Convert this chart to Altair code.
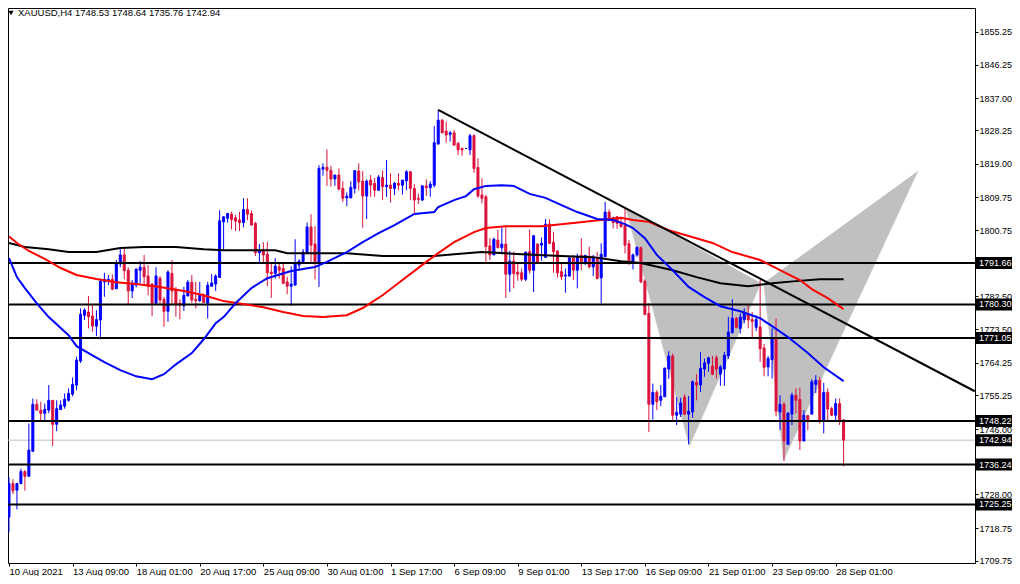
import altair as alt
import pandas as pd

opens = [1721.8,1731.0,1729.2,1731.0,1734.3,1733.0,1739.9,1752.8,1751.2,1750.3,1751.2,1753.9,1747.3,1751.4,1752.3,1753.9,1755.6,1758.1,1764.7,1777.3,
1778.2,1777.1,1774.3,1776.0,1786.5,1787.0,1787.2,1784.6,1791.4,1793.9,1789.7,1784.0,1785.6,1789.7,1790.5,1788.1,1785.9,1780.6,1787.5,1781.7,
1778.4,1788.8,1784.4,1780.6,1779.9,1782.6,1786.4,1781.7,1781.3,1782.8,1780.6,1785.3,1785.9,1787.7,1803.0,1804.0,1805.1,1804.1,1803.5,1802.8,
1806.4,1805.3,1802.6,1794.5,1795.0,1794.1,1789.2,1788.8,1790.6,1790.2,1786.5,1785.3,1785.6,1791.1,1792.1,1794.3,1801.6,1796.9,1791.6,1817.5,
1818.0,1817.2,1814.8,1815.9,1812.2,1809.6,1809.6,1812.2,1817.0,1814.2,1810.1,1814.5,1813.6,1811.7,1815.2,1812.7,1813.1,1812.2,1813.6,1813.1,
1814.3,1816.8,1812.2,1809.5,1809.0,1812.9,1812.4,1813.1,1824.4,1831.0,1828.0,1827.1,1827.5,1824.6,1823.2,1823.2,1822.8,1826.7,1818.0,1810.4,
1809.9,1796.4,1793.9,1798.0,1795.9,1796.9,1788.6,1792.2,1789.2,1789.0,1787.2,1794.8,1789.7,1796.9,1796.6,1793.2,1802.4,1797.4,1795.0,1789.3,
1788.1,1788.1,1793.0,1789.7,1793.8,1791.6,1793.6,1790.6,1793.2,1787.6,1793.4,1805.7,1804.2,1804.4,1802.8,1802.0,1797.0,1791.7,1793.9,1795.9,
1786.7,1777.8,1752.8,1756.1,1753.9,1754.9,1762.5,1766.1,1749.8,1750.1,1754.8,1750.1,1750.7,1758.8,1758.1,1762.5,1764.1,1763.3,1765.6,1761.1,
1762.5,1766.1,1772.5,1776.5,1773.7,1776.1,1777.6,1776.1,1774.0,1774.1,1768.3,1763.1,1765.1,1770.8,1750.7,1752.8,1741.8,1750.1,1755.3,1754.1,
1742.7,1749.7,1750.1,1758.3,1759.4,1748.4,1756.1,1751.6,1749.8,1753.0,1748.53]
highs = [1732.7,1732.2,1731.0,1735.1,1734.7,1747.5,1754.4,1754.2,1753.5,1753.0,1758.1,1753.9,1753.9,1753.9,1755.8,1757.2,1760.2,1765.9,1779.2,1779.2,
1782.6,1780.4,1778.7,1787.4,1789.0,1788.4,1788.6,1792.5,1795.7,1795.7,1790.5,1787.0,1790.2,1792.2,1793.9,1791.1,1786.1,1790.5,1788.1,1782.4,
1789.7,1792.5,1785.1,1781.7,1785.1,1787.0,1788.4,1786.5,1786.5,1783.3,1786.5,1788.6,1788.6,1806.2,1804.6,1805.5,1805.8,1804.9,1805.8,1809.5,
1809.5,1806.2,1803.0,1796.9,1797.4,1797.5,1791.7,1793.0,1791.8,1791.7,1787.9,1790.8,1798.2,1792.7,1795.5,1802.8,1805.1,1801.8,1818.6,1819.1,
1823.0,1818.4,1815.9,1817.7,1814.2,1811.1,1814.2,1817.2,1819.1,1817.0,1814.7,1815.9,1815.1,1815.9,1817.1,1820.0,1816.4,1814.0,1816.4,1814.5,
1817.2,1817.0,1813.4,1810.8,1813.1,1814.7,1814.2,1829.4,1833.8,1831.3,1830.6,1828.0,1828.3,1825.0,1823.5,1823.2,1827.2,1827.1,1820.5,1815.0,
1810.4,1798.5,1798.7,1800.9,1801.5,1801.8,1795.0,1794.8,1791.6,1790.2,1794.7,1800.9,1799.2,1797.1,1798.7,1803.8,1803.7,1800.3,1795.2,1791.6,
1790.2,1793.4,1793.9,1794.3,1798.5,1793.9,1796.2,1793.9,1794.7,1797.1,1808.5,1806.4,1804.4,1804.6,1804.4,1806.7,1798.0,1794.3,1796.2,1796.2,
1787.2,1780.6,1758.5,1756.7,1758.1,1762.8,1767.4,1766.8,1754.8,1754.6,1755.6,1755.1,1759.4,1761.1,1767.2,1765.4,1765.9,1766.1,1766.3,1763.6,
1767.2,1776.9,1781.7,1776.9,1777.8,1779.2,1780.4,1778.2,1777.3,1787.0,1769.4,1766.1,1773.7,1776.4,1755.3,1753.5,1750.6,1756.0,1757.2,1757.4,
1751.2,1749.8,1759.7,1760.8,1760.4,1758.7,1757.2,1752.1,1754.4,1754.4,1748.64]
lows = [1717.7,1728.1,1723.9,1730.8,1729.0,1733.0,1739.7,1751.0,1748.4,1748.4,1750.4,1741.3,1745.4,1751.2,1751.6,1753.5,1755.0,1756.7,1764.2,1776.0,
1773.7,1772.8,1771.6,1770.7,1782.4,1785.6,1784.2,1784.6,1790.5,1787.2,1780.1,1782.0,1785.0,1786.1,1785.6,1782.8,1777.1,1780.6,1780.4,1774.1,
1775.5,1780.4,1776.9,1776.2,1778.5,1782.6,1780.7,1779.2,1781.0,1780.7,1776.4,1785.1,1784.0,1787.7,1795.4,1802.8,1800.9,1800.5,1800.5,1801.5,
1803.5,1802.1,1793.6,1791.6,1791.7,1785.3,1782.1,1787.4,1787.4,1785.9,1783.1,1779.9,1785.6,1789.7,1791.8,1794.3,1791.7,1787.2,1785.1,1815.7,
1812.9,1812.7,1812.9,1811.7,1808.5,1807.3,1809.5,1810.8,1811.7,1801.4,1803.8,1809.9,1809.9,1811.6,1809.0,1809.9,1808.3,1810.4,1811.7,1810.5,
1811.7,1809.0,1804.9,1807.9,1808.8,1810.1,1809.9,1812.5,1824.4,1827.4,1824.8,1825.1,1824.1,1821.4,1821.2,1823.1,1821.4,1816.5,1809.6,1808.1,
1792.0,1792.5,1793.9,1795.7,1794.1,1782.1,1783.7,1784.7,1786.8,1786.7,1786.7,1788.8,1783.7,1791.4,1792.3,1793.2,1796.9,1789.0,1787.7,1787.0,
1783.5,1787.9,1787.0,1784.7,1789.7,1791.1,1790.2,1788.1,1787.2,1780.6,1793.4,1803.3,1801.2,1801.1,1801.4,1794.3,1791.1,1789.9,1793.4,1786.1,
1777.3,1745.2,1748.6,1751.2,1752.3,1754.9,1759.8,1748.2,1747.1,1749.3,1749.8,1741.8,1749.1,1753.9,1756.2,1760.4,1761.7,1760.8,1759.9,1757.9,
1757.9,1765.3,1772.3,1773.7,1772.3,1775.1,1773.7,1771.2,1773.0,1764.5,1760.5,1760.5,1759.9,1749.5,1745.7,1737.2,1741.8,1747.1,1750.3,1740.2,
1742.7,1745.7,1750.1,1755.9,1747.5,1744.8,1748.4,1749.6,1748.4,1747.1,1735.76]
closes = [1731.0,1729.0,1731.0,1734.3,1733.0,1740.2,1752.8,1751.2,1750.3,1751.4,1753.9,1747.3,1751.6,1752.6,1754.2,1755.8,1758.3,1765.0,1777.6,1778.7,
1776.9,1774.3,1776.1,1786.7,1787.2,1787.2,1784.5,1791.6,1793.9,1789.6,1784.0,1786.1,1790.0,1790.5,1787.9,1785.3,1780.6,1788.1,1781.5,1778.4,
1789.2,1784.0,1780.4,1780.1,1782.8,1786.4,1781.5,1781.3,1782.8,1780.8,1785.6,1786.2,1788.1,1803.3,1804.4,1805.3,1803.7,1803.2,1802.8,1806.4,
1805.1,1802.1,1794.5,1795.0,1793.9,1789.0,1788.8,1790.8,1789.7,1786.1,1785.3,1785.9,1791.6,1792.2,1794.7,1801.6,1796.6,1791.6,1817.7,1818.0,
1817.2,1814.8,1815.9,1812.0,1809.5,1810.1,1812.5,1817.1,1814.0,1810.1,1814.2,1813.1,1811.7,1815.3,1812.7,1813.1,1812.2,1813.6,1813.1,1814.5,
1816.8,1812.2,1809.0,1809.2,1812.9,1812.4,1813.4,1824.8,1831.0,1827.5,1826.9,1827.5,1824.1,1822.8,1822.8,1823.2,1826.7,1817.7,1810.1,1809.5,
1796.2,1793.9,1798.2,1795.9,1796.9,1788.6,1792.2,1788.8,1788.6,1787.2,1794.7,1789.7,1799.2,1791.6,1797.1,1802.4,1797.1,1794.8,1789.0,1787.9,
1788.4,1793.1,1789.7,1793.4,1791.6,1793.8,1790.6,1793.1,1787.4,1794.1,1805.7,1803.5,1802.8,1802.6,1801.7,1796.6,1791.7,1793.9,1796.0,1786.5,
1777.5,1752.8,1756.1,1753.5,1755.0,1762.8,1766.1,1749.8,1750.6,1753.2,1750.1,1750.9,1759.0,1758.1,1762.7,1764.2,1765.6,1761.1,1762.5,1763.1,
1766.3,1772.7,1776.5,1774.0,1776.8,1778.0,1776.0,1775.6,1776.1,1768.1,1763.0,1765.4,1770.8,1750.9,1752.8,1742.7,1750.4,1755.3,1753.9,1742.7,
1749.8,1748.4,1759.0,1759.4,1748.1,1756.1,1751.5,1749.8,1753.0,1748.4,1742.94]

ma_blue_i = [0,2,4,7,10,15,17,21,24,28,32,36,39,42,46,49,52,54,57,61,65,71,77,80,85,89,93,97,102,107,108,112,115,117,120,124,127,131,135,139,143,148,152,155,157,160,163,167,171,175,179,184,189,192,196,201,205,210]
ma_blue_p = [1793.0,1787.8,1784.8,1780.6,1776.8,1771.8,1768.8,1766.3,1764.4,1762.2,1760.5,1759.7,1761.1,1763.8,1766.9,1770.7,1775.1,1776.8,1780.6,1784.8,1787.5,1789.5,1790.6,1792.0,1794.7,1797.4,1799.9,1802.1,1805.2,1805.7,1807.1,1809.0,1810.1,1812.0,1812.9,1813.1,1812.9,1810.7,1809.6,1807.6,1805.7,1803.8,1803.5,1802.4,1801.3,1798.5,1793.9,1789.7,1785.1,1782.3,1779.8,1778.4,1776.5,1774.3,1771.3,1766.9,1763.0,1759.2]
ma_red_i = [0,2,5,9,13,17,22,27,32,38,44,49,54,56,64,69,74,79,85,89,94,99,105,108,112,117,120,125,134,142,149,154,157,161,166,171,177,182,189,194,199,202,206,210]
ma_red_p = [1799.0,1797.2,1795.0,1792.8,1790.3,1788.4,1787.3,1786.4,1785.9,1785.1,1784.0,1782.8,1781.2,1780.9,1779.5,1778.2,1777.1,1776.8,1777.3,1779.3,1782.8,1787.0,1792.0,1794.4,1797.4,1800.2,1801.3,1801.8,1801.8,1802.7,1803.5,1804.1,1803.5,1803.0,1800.7,1799.1,1797.2,1794.7,1792.5,1789.7,1787.0,1784.5,1782.0,1779.0]
ma_black_i = [0,4,10,15,22,28,34,42,49,54,67,70,85,94,107,112,119,129,139,147,154,159,167,173,179,186,192,198,204,210]
ma_black_p = [1797.2,1796.1,1795.5,1794.7,1794.7,1795.8,1796.1,1796.1,1795.5,1795.2,1795.2,1794.4,1794.4,1793.6,1793.6,1794.1,1794.7,1794.1,1793.6,1793.3,1792.2,1791.7,1789.7,1787.8,1786.1,1785.3,1786.1,1786.7,1787.2,1787.2]

trend_i = [108, 243]
trend_p = [1833.8, 1756.4]
pattern_left_i = [155.2, 171.2, 189.2]
pattern_left_p = [1806.8, 1741.3, 1786.2]
pattern_right_i = [189.9, 194.9, 228.7]
pattern_right_p = [1786.2, 1737.4, 1817.0]

level_prices = [1791.66, 1780.30, 1771.05, 1748.22, 1736.24, 1725.25]
last_price = 1742.94
y_ticks = [1855.25,1846.25,1837.00,1828.25,1819.00,1809.75,1800.75,1782.50,1773.50,1764.25,1755.25,1746.00,1728.00,1718.75,1709.75]
x_tick_labels = ["10 Aug 2021","13 Aug 09:00","18 Aug 01:00","20 Aug 17:00","25 Aug 09:00","30 Aug 01:00","1 Sep 17:00","6 Sep 09:00","9 Sep 01:00","13 Sep 17:00","16 Sep 09:00","21 Sep 01:00","23 Sep 09:00","28 Sep 01:00"]
header = "XAUUSD,H4  1748.53 1748.64 1735.76 1742.94"

FONT = "Liberation Sans"
FS = 9.5
FS_PRICE = 9
x_scale = alt.Scale(domain=[-0.25, 243.06], nice=False, zero=False, padding=0)
y_scale = alt.Scale(domain=[1709.14, 1861.85], nice=False, zero=False, padding=0)

x_axis = alt.Axis(
    title=None, values=[16 * k for k in range(len(x_tick_labels))],
    labelExpr="%s[datum.value / 16]" % str(x_tick_labels),
    labelAlign="left", labelFlush=False, labelOverlap=False, labelPadding=0,
    tickSize=3, tickColor="black", domain=False, grid=False,
    labelFont=FONT, labelFontSize=FS, labelColor="black")
y_axis = alt.Axis(
    title=None, orient="right", values=y_ticks, format=".2f",
    labelFlush=False, labelOverlap=False, labelPadding=1,
    tickSize=3, tickColor="black", domain=False, grid=False,
    labelFont=FONT, labelFontSize=FS_PRICE, labelColor="black")

def X(field="i"):
    return alt.X(field + ":Q", scale=x_scale, axis=x_axis)

def Y(field="p"):
    return alt.Y(field + ":Q", scale=y_scale, axis=y_axis)

candles = pd.DataFrame({"i": range(len(opens)), "o": opens, "h": highs, "l": lows, "c": closes})
candles["dir"] = ["up" if c >= o else "down" for o, c in zip(opens, closes)]
colour = alt.Scale(domain=["up", "down"], range=["#0000ff", "#dc143c"])

def poly(xs, ps):
    d = pd.DataFrame({"i": xs, "p": ps, "k": range(len(xs))})
    return alt.Chart(d).mark_line(fill="#c0c0c0", stroke="#c0c0c0", strokeWidth=0.5).encode(
        x=X(), y=Y(), order="k:Q")

def line(xs, ps, col):
    d = pd.DataFrame({"i": xs, "p": ps})
    return alt.Chart(d).mark_line(color=col, strokeWidth=2).encode(x=X(), y=Y())

wicks = alt.Chart(candles).mark_rule(strokeWidth=1).encode(
    x=X(), y=Y("l"), y2="h:Q",
    color=alt.Color("dir:N", scale=colour, legend=None))
bodies = alt.Chart(candles).mark_bar(size=2, strokeWidth=1, orient="vertical").encode(
    x=X(), y=Y("o"), y2="c:Q",
    color=alt.Color("dir:N", scale=colour, legend=None),
    stroke=alt.Stroke("dir:N", scale=colour, legend=None))

levels = alt.Chart(pd.DataFrame({"p": level_prices})).mark_rule(color="black", strokeWidth=2).encode(y=Y())
last_line = alt.Chart(pd.DataFrame({"p": [last_price]})).mark_rule(color="#c0c0c0", strokeWidth=1).encode(y=Y())

box_df = pd.DataFrame({"p": level_prices + [last_price]})
box_df["t"] = ["%.2f" % v for v in box_df["p"]]
boxes = alt.Chart(box_df).mark_rect(color="black", height=12).encode(
    x=alt.value(968), x2=alt.value(1004), y=Y())
box_text = alt.Chart(box_df).mark_text(color="white", font=FONT, fontSize=FS_PRICE, align="left", baseline="middle").encode(
    x=alt.value(971), y=Y(), text="t:N")

head = alt.Chart(pd.DataFrame({"t": [header]})).mark_text(color="black", font=FONT, fontSize=FS, align="left", baseline="middle").encode(
    x=alt.value(10), y=alt.value(5), text="t:N")
head_mark = alt.Chart(pd.DataFrame({"t": [0]})).mark_point(shape="triangle-down", filled=True, color="black", size=28, opacity=1).encode(
    x=alt.value(3), y=alt.value(5))

chart = alt.layer(
    poly(pattern_left_i, pattern_left_p), poly(pattern_right_i, pattern_right_p),
    last_line, wicks, bodies, levels,
    line(ma_black_i, ma_black_p, "black"), line(ma_red_i, ma_red_p, "#ff0000"), line(ma_blue_i, ma_blue_p, "#0000ff"),
    line(trend_i, trend_p, "black"),
    boxes, box_text, head_mark, head
).resolve_scale(color="independent", stroke="independent").properties(
    width=967, height=555, background="white",
    padding={"left": 0, "top": 0, "right": 37, "bottom": 13},
    autosize=alt.AutoSizeParams(type="none"),
).configure_view(stroke="black", strokeWidth=1)

chart.save("out.html", embed_options={"renderer": "svg", "actions": False})
